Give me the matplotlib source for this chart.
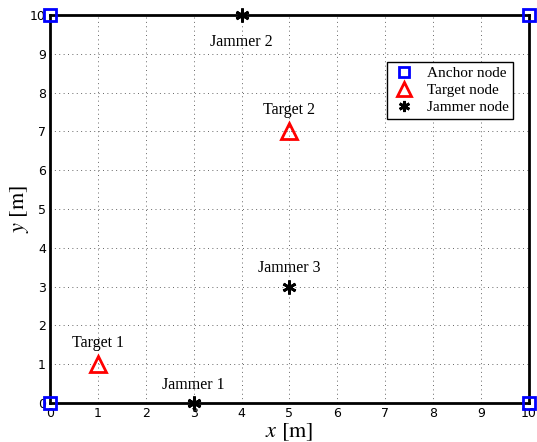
import matplotlib
matplotlib.use("Agg")
import matplotlib.pyplot as plt

# Node positions [m]
anchor_x = [0, 10, 0, 10]
anchor_y = [0, 0, 10, 10]
target_x = [1, 5]
target_y = [1, 7]
jammer_x = [3, 4, 5]
jammer_y = [0, 10, 3]

target_labels = ["Target 1", "Target 2"]
jammer_labels = ["Jammer 1", "Jammer 2", "Jammer 3"]
target_label_y = [1.55, 7.55]
jammer_label_y = [0.46, 9.3, 3.48]

plt.rcParams["mathtext.fontset"] = "stix"

fig = plt.figure(figsize=(5.37, 4.42), dpi=100)
ax = fig.add_axes([0.0931, 0.0882, 0.8920, 0.8778])

ax.plot(anchor_x, anchor_y, "s", ms=9, mfc="none", mec="blue", mew=2,
        clip_on=False, zorder=5, label="Anchor node")
ax.plot(target_x, target_y, "^", ms=12, mfc="none", mec="red", mew=2,
        clip_on=False, zorder=5, label="Target node")
ax.plot(jammer_x, jammer_y, linestyle="none", marker=(6, 2, 0), ms=10,
        mec="black", mew=2, clip_on=False, zorder=5, label="Jammer node")

serif = {"family": "Liberation Serif", "size": 11.5}
for x, ly, t in zip(target_x, target_label_y, target_labels):
    ax.text(x, ly, t, ha="center", va="center", fontdict=serif)
for x, ly, t in zip(jammer_x, jammer_label_y, jammer_labels):
    ax.text(x, ly, t, ha="center", va="center", fontdict=serif)

ax.set_xlim(0, 10)
ax.set_ylim(0, 10)
ax.set_xticks(range(11))
ax.set_yticks(range(11))
ax.tick_params(direction="in", length=0, labelsize=9, pad=3)
ax.grid(True, linestyle=(0, (1, 3.5)), color="#666666", linewidth=0.7)
for s in ax.spines.values():
    s.set_linewidth(2)

ax.set_xlabel("$x$ [m]", fontsize=16, family="STIXGeneral", labelpad=1)
ax.set_ylabel("$y$ [m]", fontsize=16, family="STIXGeneral", labelpad=-1)

leg = ax.legend(loc="upper right", bbox_to_anchor=(0.967, 0.879),
                prop={"family": "Liberation Serif", "size": 11},
                fancybox=False, edgecolor="black", framealpha=1,
                markerscale=0.8, handlelength=1.6, handletextpad=0.7,
                borderpad=0.3, labelspacing=0.22, borderaxespad=0)
leg.get_frame().set_linewidth(1)

fig.savefig("out.png", dpi=100)
